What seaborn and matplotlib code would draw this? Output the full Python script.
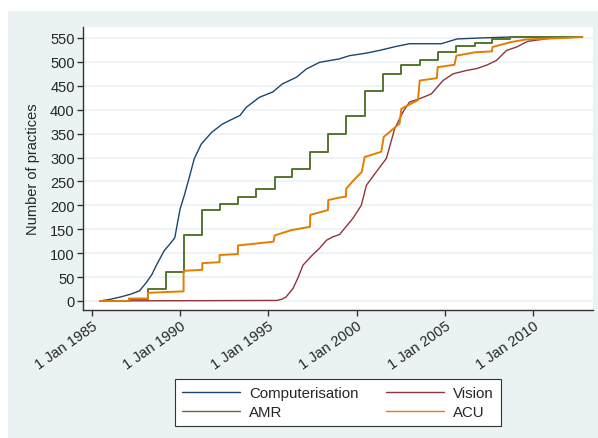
import matplotlib
matplotlib.use("Agg")
import matplotlib.pyplot as plt
import seaborn as sns
import pandas as pd
from matplotlib.patches import Rectangle

# ---- data (decimal years, cumulative number of practices) ----
comp_x = [1985.45, 1986.0, 1986.6, 1987.2, 1987.7, 1988.1, 1988.4, 1988.65, 1989.1, 1989.4,
          1989.7, 1990.0, 1990.25, 1990.55, 1990.8, 1991.2, 1991.8, 1992.4, 1993.0, 1993.4,
          1993.75, 1994.5, 1995.25, 1995.8, 1996.6, 1997.15, 1997.9, 1998.5, 1999.0, 1999.6,
          2000.5, 2001.3, 2002.2, 2003.0, 2004.8, 2005.7, 2007.0, 2008.7, 2012.8]
comp_y = [0, 3, 8, 14, 21, 39, 55, 74, 105, 118,
          132, 192, 222, 262, 297, 328, 353, 370, 381, 388,
          405, 426, 437, 454, 468, 485, 499, 503, 506, 513,
          518, 524, 532, 538, 538, 548, 550, 552, 552]

amr_x = [1985.45, 1987.1, 1988.18, 1989.18, 1990.2, 1991.26, 1992.24, 1993.28, 1994.32, 1995.36,
         1996.36, 1997.38, 1998.4, 1999.42, 2000.46, 2001.5, 2002.54, 2003.58, 2004.6, 2005.62,
         2006.7, 2007.7, 2008.7, 2012.8]
amr_y = [0, 5, 24, 60, 137, 190, 202, 218, 235, 259,
         276, 311, 349, 386, 440, 474, 494, 505, 520, 534,
         540, 548, 552, 552]

acu_x = [1985.45, 1987.1, 1987.1, 1988.18, 1988.18, 1990.2, 1990.2, 1991.26, 1991.26, 1992.24,
         1992.24, 1993.28, 1993.28, 1994.3, 1995.3, 1995.36, 1996.3, 1997.36, 1997.38, 1998.38,
         1998.4, 1999.0, 1999.4, 1999.42, 1999.85, 2000.3, 2000.46, 2001.4, 2001.54, 2002.44,
         2002.54, 2003.48, 2003.58, 2004.55, 2004.6, 2005.55, 2005.66, 2006.7, 2007.68, 2007.7,
         2008.7, 2009.6, 2011.7, 2012.8]
acu_y = [0, 0, 5, 5, 17, 20, 63, 65, 79, 81,
         96, 98, 116, 120, 124, 137, 148, 155, 180, 190,
         211, 216, 218, 235, 253, 270, 301, 312, 343, 371,
         402, 420, 461, 466, 489, 494, 513, 520, 522, 531,
         541, 547, 550, 552]

vis_x = [1985.45, 1995.5, 1995.8, 1996.0, 1996.4, 1996.7, 1996.97, 1997.5, 1997.9, 1998.3,
         1998.66, 1999.04, 1999.8, 2000.27, 2000.56, 2001.12, 2001.69, 2002.16, 2002.63, 2003.0,
         2003.58, 2004.24, 2004.9, 2005.47, 2006.23, 2006.8, 2007.36, 2007.93, 2008.5, 2009.06,
         2009.7, 2011.1, 2012.8]
vis_y = [0, 1, 4, 8, 26, 50, 75, 96, 110, 127,
         134, 139, 173, 200, 242, 270, 298, 360, 395, 416,
         423, 433, 461, 475, 482, 486, 493, 503, 524, 531,
         543, 550, 552]

series_names = ["Computerisation", "AMR", "Vision", "ACU"]
colors = {"Computerisation": "#1A476F", "AMR": "#55752F", "Vision": "#90353B", "ACU": "#E37E00"}
widths = {"Computerisation": 1.0, "AMR": 1.4, "Vision": 1.0, "ACU": 1.4}
tick_years = [1985, 1990, 1995, 2000, 2005, 2010]
tick_labels = ["1 Jan 1985", "1 Jan 1990", "1 Jan 1995", "1 Jan 2000", "1 Jan 2005", "1 Jan 2010"]
y_ticks = list(range(0, 551, 50))

data = {
    "Computerisation": (comp_x, comp_y),
    "AMR": (amr_x, amr_y),
    "Vision": (vis_x, vis_y),
    "ACU": (acu_x, acu_y),
}

sns.set_style("white")
plt.rcParams["font.family"] = ["Liberation Sans", "DejaVu Sans"]

fig = plt.figure(figsize=(5.98, 4.39), dpi=100, facecolor="white")
bg = "#EAF2F3"
fig.patches.append(Rectangle((8 / 598, 0), 1 - 8 / 598, 1 - 12 / 439, transform=fig.transFigure,
                             facecolor=bg, edgecolor="none", zorder=-10))

ax = fig.add_axes([83 / 598, 1 - 311 / 439, (593 - 83) / 598, (311 - 28) / 439])
ax.set_facecolor("white")

draw_order = ["Computerisation", "Vision", "AMR", "ACU"]
for name in draw_order:
    xs, ys = data[name]
    df = pd.DataFrame({"x": xs, "y": ys})
    if name == "AMR":
        sns.lineplot(data=df, x="x", y="y", ax=ax, color=colors[name], linewidth=widths[name],
                     drawstyle="steps-post", sort=False, estimator=None, label=name)
    else:
        sns.lineplot(data=df, x="x", y="y", ax=ax, color=colors[name], linewidth=widths[name],
                     sort=False, estimator=None, label=name)

ax.set_xlim(1984.5, 2013.4)
ax.set_ylim(-19, 573)
ax.set_yticks(y_ticks)
ax.set_yticklabels([str(v) for v in y_ticks], fontsize=10.5)
ax.set_xticks(tick_years)
ax.set_xticklabels(tick_labels, fontsize=10.5, rotation=35, ha="right", rotation_mode="anchor")
ax.grid(axis="y", color="#EAF2F3", linewidth=1.2)
ax.grid(axis="x", visible=False)
ax.set_axisbelow(True)
for s in ["top", "right"]:
    ax.spines[s].set_visible(False)
for s in ["left", "bottom"]:
    ax.spines[s].set_color("#333333")
    ax.spines[s].set_linewidth(1.0)
ax.tick_params(axis="both", direction="out", length=4, width=1, color="#333333", pad=2,
               left=True, bottom=True)
ax.set_xlabel("")
ax.set_ylabel("Number of practices", fontsize=10.5, labelpad=7)

hs, ls = ax.get_legend_handles_labels()
lookup = dict(zip(ls, hs))
order = ["Computerisation", "AMR", "Vision", "ACU"]
leg = ax.legend([lookup[n] for n in order], order, ncol=2, loc="center",
                bbox_to_anchor=(338 / 598, 1 - 403.5 / 439), bbox_transform=fig.transFigure,
                frameon=True, fancybox=False, edgecolor="#333333", facecolor="white",
                fontsize=10.8, handlelength=3.9, columnspacing=1.8, handletextpad=0.6,
                borderpad=0.45, labelspacing=0.35, framealpha=1)
leg.get_frame().set_linewidth(0.8)
for line in leg.get_lines():
    line.set_linewidth(1.0)

fig.savefig("out.png", dpi=100, facecolor=fig.get_facecolor())
